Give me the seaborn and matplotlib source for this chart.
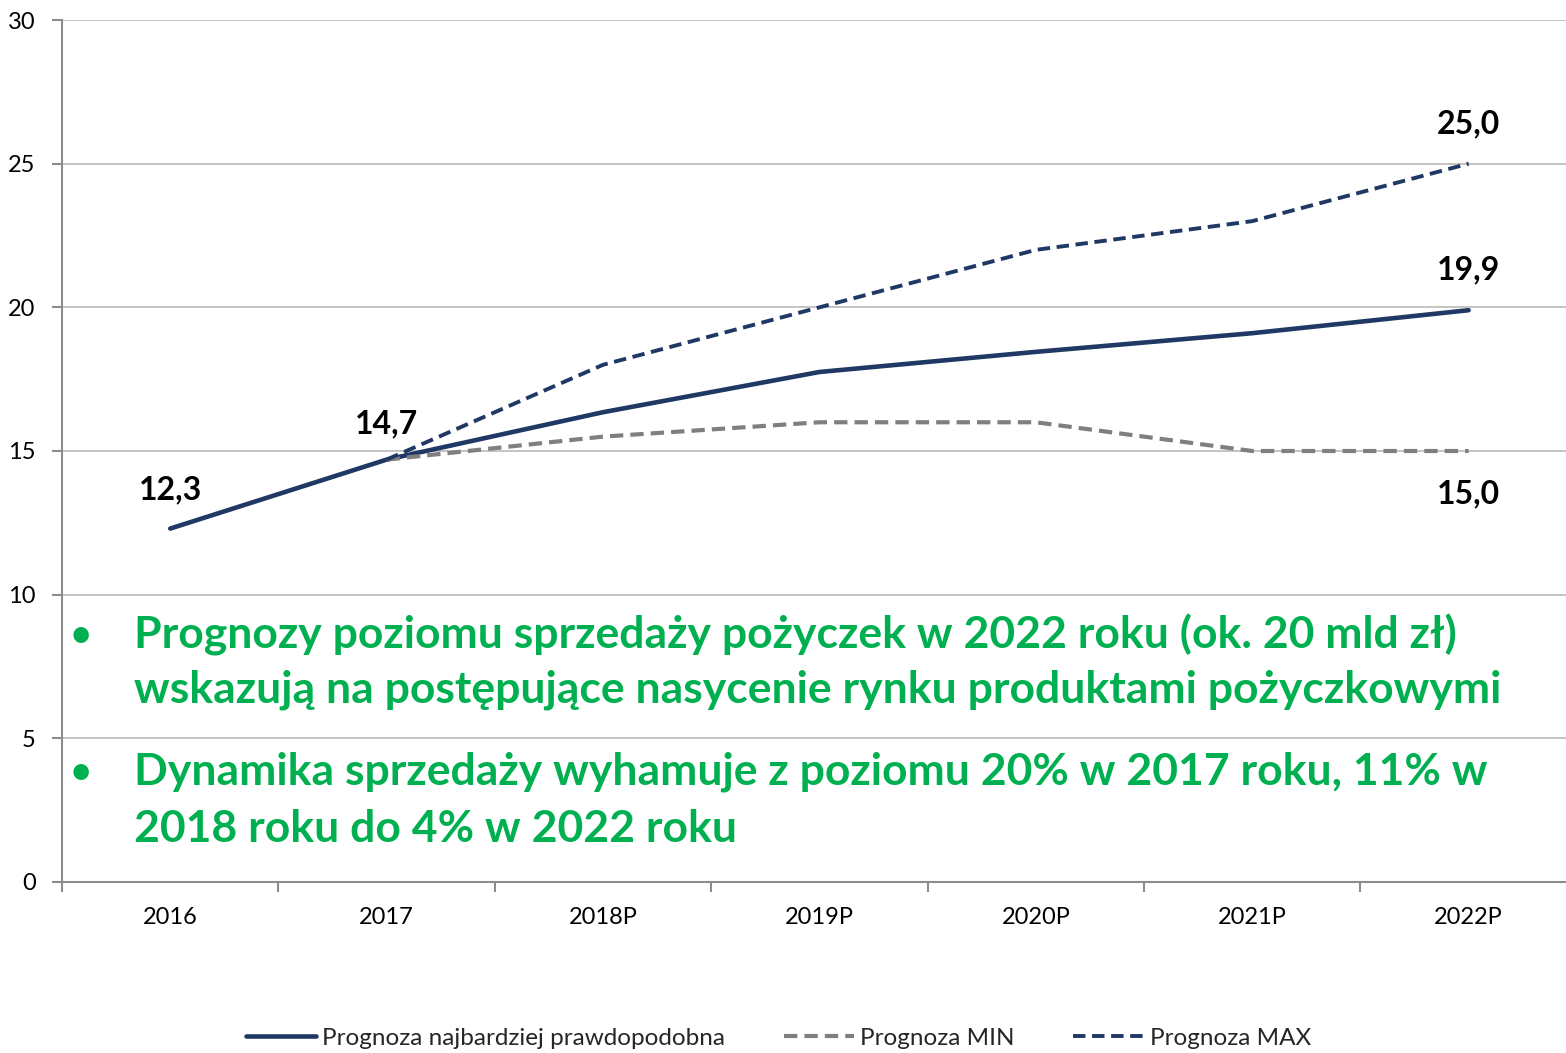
import numpy as np
import pandas as pd
import matplotlib
matplotlib.use("Agg")
import matplotlib.pyplot as plt
import seaborn as sns
from matplotlib.ticker import FixedLocator, NullFormatter

categories = ["2016", "2017", "2018P", "2019P", "2020P", "2021P", "2022P"]
most_likely = [12.3, 14.7, 16.35, 17.75, 18.45, 19.1, 19.9]
prog_min = [np.nan, 14.7, 15.5, 16.0, 16.0, 15.0, 15.0]
prog_max = [np.nan, 14.7, 18.0, 20.0, 22.0, 23.0, 25.0]
label_names = ["Prognoza najbardziej prawdopodobna", "Prognoza MIN", "Prognoza MAX"]
annotations = [(0, 12.3, "12,3"), (1, 14.7, "14,7"), (6, 25.0, "25,0"), (6, 19.9, "19,9"), (6, 15.0, "15,0")]
bullet_lines = [
    ["Prognozy poziomu sprzedaży pożyczek w 2022 roku (ok. 20 mld zł)",
     "wskazują na postępujące nasycenie rynku produktami pożyczkowymi"],
    ["Dynamika sprzedaży wyhamuje z poziomu 20% w 2017 roku, 11% w",
     "2018 roku do 4% w 2022 roku"],
]

sns.set_theme(style="white")
plt.rcParams['font.family'] = ['Lato', 'DejaVu Sans']

navy = "#1F3864"
gray = "#7F7F7F"
green = "#00B050"
axis_gray = "#8C8C8C"

x = np.arange(len(categories))
df = pd.DataFrame({"x": x, "main": most_likely, "min": prog_min, "max": prog_max})

fig = plt.figure(figsize=(15.66, 10.53), dpi=100)
ax = fig.add_axes([0.0396, 0.1624, 0.9604, 0.8186])

sns.lineplot(data=df, x="x", y="main", ax=ax, color=navy, lw=3.3, label=label_names[0])
sns.lineplot(data=df.dropna(), x="x", y="min", ax=ax, color=gray, lw=3.0, label=label_names[1])
sns.lineplot(data=df.dropna(), x="x", y="max", ax=ax, color=navy, lw=2.8, label=label_names[2])
ax.lines[1].set_dashes((3.2, 1.7))
ax.lines[2].set_dashes((3.2, 1.7))

ax.set_xlim(-0.5, 6.45)
ax.set_ylim(0, 30)
ax.set_yticks(np.arange(0, 31, 5))
ax.yaxis.grid(True, color="#BFBFBF", lw=1.3)
ax.set_axisbelow(True)
for s in ["top", "right"]:
    ax.spines[s].set_visible(False)
for s in ["left", "bottom"]:
    ax.spines[s].set_color(axis_gray)
    ax.spines[s].set_linewidth(1.5)

ax.xaxis.set_major_locator(FixedLocator(np.arange(-0.5, 6.5, 1.0)))
ax.xaxis.set_major_formatter(NullFormatter())
ax.xaxis.set_minor_locator(FixedLocator(x))
ax.set_xticklabels(categories, minor=True)
ax.tick_params(axis="x", which="major", direction="out", length=7, width=1.5, color=axis_gray, bottom=True)
ax.tick_params(axis="x", which="minor", length=0, pad=18, labelsize=17, labelcolor="black")
ax.tick_params(axis="y", direction="out", length=7, width=1.5, color=axis_gray, left=True, labelsize=17, labelcolor="black", pad=12)
ax.set_xlabel("")
ax.set_ylabel("")

offsets = {"12,3": 28, "14,7": 26, "25,0": 29, "19,9": 29, "15,0": -31}
for xi, yi, t in annotations:
    ax.annotate(t, (xi, yi), xytext=(0, offsets[t]), textcoords="offset points",
                ha="center", va="center",
                fontsize=23, fontweight="bold", color="black")

baselines_px = [[648, 703], [785, 842]]
H = 1053.0
W = 1566.0
for lines, bls in zip(bullet_lines, baselines_px):
    fig.text(81 / W, 1 - bls[0] / H, "•", fontsize=30, color=green, ha="center", va="baseline")
    for t, b in zip(lines, bls):
        fig.text(134 / W, 1 - b / H, t, fontsize=32, color=green, fontweight="bold", va="baseline")

ax.legend_.remove()
handles, labels = ax.get_legend_handles_labels()
fig.legend(handles, labels, loc="center", bbox_to_anchor=(0.497, 0.0142), ncol=3, frameon=False,
           fontsize=17.5, handlelength=2.9, columnspacing=2.4, handletextpad=0.25)

fig.savefig("out.png", dpi=100)
